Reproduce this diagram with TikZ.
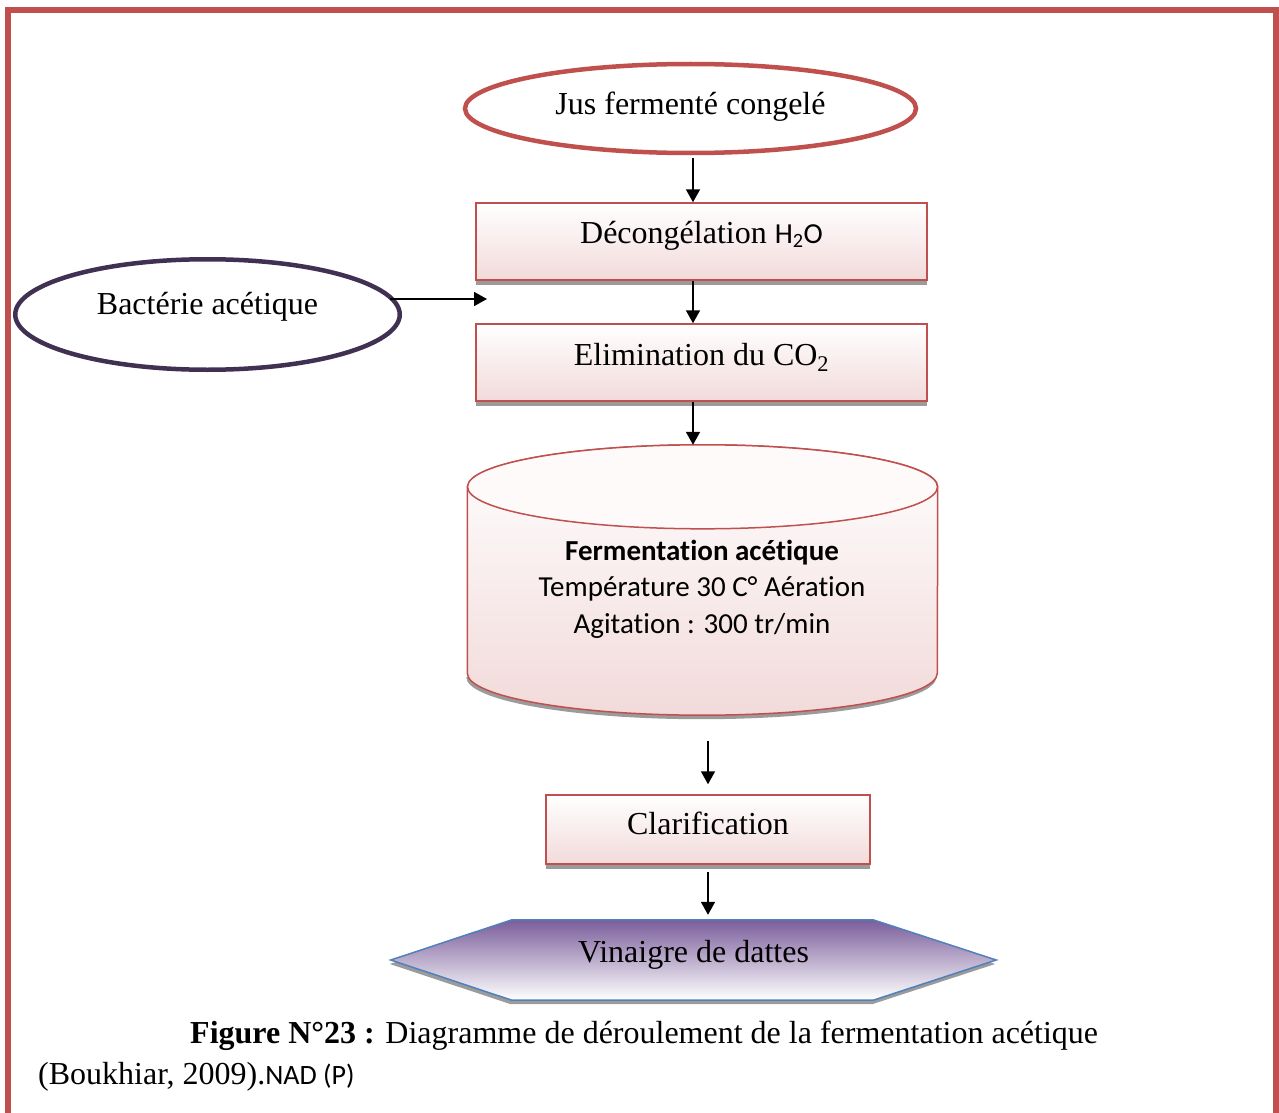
\documentclass[tikz,border=0pt]{standalone}
\usepackage{fontspec}
\setmainfont{Liberation Serif}
\newfontfamily\calibri[Ligatures=NoCommon, Contextuals=NoAlternate, RawFeature=-dlig]{Carlito}
\usetikzlibrary{shapes.geometric,arrows.meta,calc,shadows,backgrounds}

\definecolor{frameRed}{RGB}{192,80,77}
\definecolor{boxPink}{RGB}{242,218,218}
\definecolor{ovalPurple}{RGB}{64,49,82}
\definecolor{hexPurple}{RGB}{122,94,155}
\definecolor{hexBlue}{RGB}{79,129,189}
\definecolor{shadowGray}{RGB}{155,155,155}
\definecolor{lidWhite}{RGB}{254,250,250}

\begin{document}
\begin{tikzpicture}[x=1pt,y=-1pt,
  txt/.style={font=\fontsize{32}{38}\selectfont},
  tdep/.style={text height=22pt, text depth=#1},
  oval/.style={ellipse, line width=4.5pt, inner sep=0pt, txt},
  stepbox/.style={rectangle, draw=frameRed, line width=1.5pt,
    top color=white, bottom color=boxPink, inner sep=0pt, txt,
    general shadow={fill=shadowGray, shadow yshift=-5pt}},
  flow/.style={-{Triangle[length=13pt,width=14pt]}, line width=1.7pt},
]
\useasboundingbox (0,0) rectangle (1279,1113);

% page frame
\draw[frameRed, line width=6pt] (8,10) rectangle (1276,1140);

% input ovals
\node[oval, draw=frameRed, minimum width=451pt, minimum height=89pt, tdep=9pt]
  (jus) at (690.5,108.5) {Jus fermenté congelé};
\node[oval, draw=ovalPurple, minimum width=384.5pt, minimum height=110.5pt, tdep=23pt]
  (bact) at (207.5,314.5) {Bactérie acétique};

% process boxes
\node[stepbox, minimum width=451pt, minimum height=77pt, tdep=19pt]
  (dec) at (701.5,241.5)
  {Décongélation {\calibri\fontsize{29}{34}\selectfont H\textsubscript{2}O}};
\node[stepbox, minimum width=451pt, minimum height=77pt, tdep=17pt]
  (elim) at (701.5,362.5) {Elimination du CO\textsubscript{2}};

% fermentation tank (cylinder)
\node[rectangle, minimum width=470pt, minimum height=270pt, inner sep=0pt]
  (ferm) at (702.5,580) {};
\path (ferm.north west) ++(0,42) coordinate (ctl);
\path (ferm.north east) ++(0,42) coordinate (ctr);
\path (ferm.south west) ++(0,-42) coordinate (cbl);
\path (ferm.south east) ++(0,-42) coordinate (cbr);
\path (ferm.north) ++(0,42) coordinate (ctc);
\begin{scope}[on background layer]
  \fill[shadowGray] ([xshift=-1pt,yshift=-4pt]cbl)
    arc[start angle=180, end angle=360, x radius=235pt, y radius=42pt] -- cycle;
  \shade[top color=white, bottom color=boxPink, draw=frameRed, line width=1.5pt]
    (ctl) -- (cbl)
    arc[start angle=180, end angle=360, x radius=235pt, y radius=42pt]
    -- (ctr)
    arc[start angle=0, end angle=180, x radius=235pt, y radius=42pt] -- cycle;
  \filldraw[fill=lidWhite, draw=frameRed, line width=1.5pt]
    (ctc) ellipse [x radius=235pt, y radius=42pt];
\end{scope}
\node[font=\calibri\fontsize{29}{36.5}\selectfont, align=center, inner sep=0pt]
  (fermtxt) at (702,589)
  {\textbf{Fermentation acétique}\\Température 30 C° Aération\\Agitation : 300 tr/min};

% clarification and product
\node[stepbox, minimum width=324pt, minimum height=69pt, tdep=13pt]
  (clar) at (708,829.5) {Clarification};
\node[rectangle, minimum width=605pt, minimum height=80pt, inner sep=0pt, txt, tdep=18pt]
  (vin) at (693.5,960) {Vinaigre de dattes};
\begin{scope}[on background layer]
  \fill[shadowGray, transform canvas={xshift=-1pt, yshift=-4pt}]
    (vin.west) -- ($(vin.north west)+(121,0)$) -- ($(vin.north east)+(-123,0)$)
    -- (vin.east) -- ($(vin.south east)+(-123,0)$) -- ($(vin.south west)+(121,0)$) -- cycle;
  \shade[top color=hexPurple, bottom color=white, draw=hexBlue, line width=1.5pt]
    (vin.west) -- ($(vin.north west)+(121,0)$) -- ($(vin.north east)+(-123,0)$)
    -- (vin.east) -- ($(vin.south east)+(-123,0)$) -- ($(vin.south west)+(121,0)$) -- cycle;
\end{scope}

% connectors
\coordinate (axis) at (693,0);
\coordinate (feed) at (487,299);
\draw[flow, shorten <=3pt] (jus.south -| axis) -- (dec.north -| axis);
\draw[flow] (dec.south -| axis) -- (elim.north -| axis);
\draw[flow] (elim.south -| axis) -- (ferm.north -| axis);
\draw[flow, shorten <=-12pt] (bact.east |- feed) -- (feed);
\draw[flow, shorten <=26pt, shorten >=10pt] (clar.north |- ferm.south) -- (clar.north);
\draw[flow, shorten <=7pt, shorten >=5pt] (clar.south) -- (clar.south |- vin.north);

% caption
\node[anchor=base west, txt, inner sep=0pt] (cap1) at (190,1043)
  {\textbf{Figure N°23 :} Diagramme de déroulement de la fermentation acétique};
\node[anchor=base west, txt, inner sep=0pt] (cap2) at (38,1084)
  {(Boukhiar, 2009).{\calibri\fontsize{28}{32}\selectfont NAD (P)}};
\end{tikzpicture}
\end{document}
